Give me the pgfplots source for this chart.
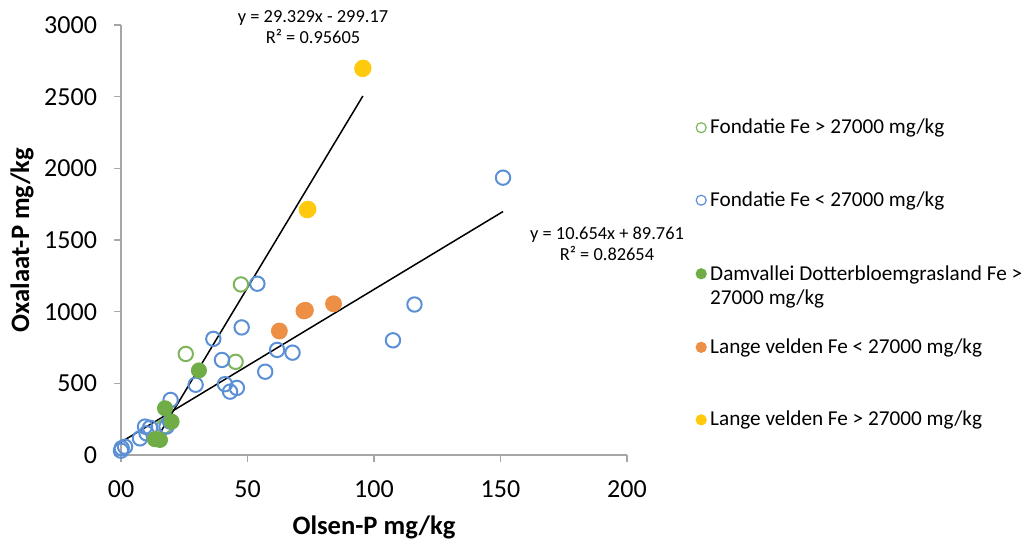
\documentclass[border=0pt]{standalone}
\usepackage{fontspec}
\setmainfont{Carlito}
\usepackage{pgfplots}
\pgfplotsset{compat=1.18}
\definecolor{gopen}{HTML}{7EB55A}
\definecolor{gfill}{HTML}{70AD47}
\definecolor{bopen}{HTML}{5B8FD6}
\definecolor{oran}{HTML}{ED8F45}
\definecolor{yell}{HTML}{FFC90E}
\definecolor{axgray}{HTML}{A6A6A6}
\begin{document}
\begin{tikzpicture}
\path[use as bounding box] (-60.5pt,-44.5pt) rectangle (454pt,227.5pt);
\begin{axis}[
  at={(0pt,0pt)}, anchor=south west, scale only axis,
  width=253pt, height=215pt,
  xmin=0, xmax=200, ymin=0, ymax=3000,
  axis x line=bottom, axis y line=left,
  axis line style={draw=axgray, line width=0.7pt, -},
  xtick={0,50,100,150,200}, xticklabels={00,50,100,150,200},
  ytick={0,500,1000,1500,2000,2500,3000},
  tick align=outside, major tick length=3.5pt,
  tick style={draw=axgray, line width=0.7pt},
  ticklabel style={font=\fontsize{13}{15}\selectfont},
  xticklabel style={yshift=-6pt},
  yticklabel style={xshift=-5pt, /pgf/number format/1000 sep={}},
  /pgf/number format/assume math mode=true,
  scaled y ticks=false,
  clip=false,
  xlabel={Olsen-P mg/kg}, ylabel={Oxalaat-P mg/kg},
  every axis x label/.style={at={(axis description cs:0.5,-0.1674)}, anchor=center, font=\fontsize{13.3}{15}\selectfont\bfseries},
  every axis y label/.style={at={(axis description cs:-0.1957,0.5)}, anchor=center, rotate=90, font=\fontsize{13.3}{15}\selectfont\bfseries},
  legend style={draw=none, fill=none, at={(rel axis cs:1.136,0.792)}, anchor=north west,
    font=\fontsize{10.6}{12}\selectfont, row sep=23.4pt, cells={anchor=west}, inner sep=0pt},
  legend image code/.code={\draw[#1, mark size=2.5pt, line width=0.6pt] plot coordinates {(0pt,0pt)};},
]
% trendlines
\addplot[black, line width=0.75pt, forget plot] coordinates {(13.2,87.97) (95.6,2504.68)};
\addplot[black, line width=0.75pt, forget plot] coordinates {(0,89.76) (151,1698.51)};

% Fondatie Fe > 27000
\addplot[only marks, mark=o, mark size=3.6pt, line width=1pt, draw=gopen] coordinates {
(47.4,1190) (25.6,705) (45.3,650) (17,200)
};
\addlegendentry{Fondatie Fe > 27000 mg/kg}
% Fondatie Fe < 27000
\addplot[only marks, mark=o, mark size=3.6pt, line width=1pt, draw=bopen] coordinates {
(151,1935) (116,1050) (107.5,800) (53.9,1195) (47.7,890) (36.5,810) (39.9,663)
(61.7,733) (67.8,714) (57,581) (29.5,490) (41.1,494) (43.1,442) (45.8,468)
(19.6,384) (19.4,233) (18,198) (9.5,198) (11.5,190) (10.1,151) (7.5,116)
(1.6,58) (0.3,47) (0,30)
};
\addlegendentry{Fondatie Fe < 27000 mg/kg}
% Damvallei
\addplot[only marks, mark=*, mark size=3.8pt, draw=gfill, fill=gfill] coordinates {
(17.4,326) (20,233) (13.4,110) (15.4,105) (30.8,590)
};
\addlegendentry{\raisebox{0pt}[\height][0pt]{\begin{tabular}[t]{@{}l@{}}Damvallei Dotterbloemgrasland Fe >\\27000 mg/kg\end{tabular}}}
% Lange velden < 27000
\addplot[only marks, mark=*, mark size=4pt, draw=oran, fill=oran] coordinates {
(62.6,865) (72.3,1005) (72.9,1010) (84,1055)
};
\addlegendentry{Lange velden Fe < 27000 mg/kg}
% Lange velden > 27000
\addplot[only marks, mark=*, mark size=4pt, draw=yell, fill=yell] coordinates {
(95.7,2700) (95.5,2695) (73.9,1715) (73.6,1710)
};
\addlegendentry{Lange velden Fe > 27000 mg/kg}

\node[font=\fontsize{9.2}{10.5}\selectfont, align=center] at (axis cs:75.9,2983) {y = 29.329x - 299.17\\R² = 0.95605};
\node[font=\fontsize{9.2}{10.5}\selectfont, align=center] at (axis cs:192.1,1472) {y = 10.654x + 89.761\\R² = 0.82654};
\end{axis}
\end{tikzpicture}
\end{document}
